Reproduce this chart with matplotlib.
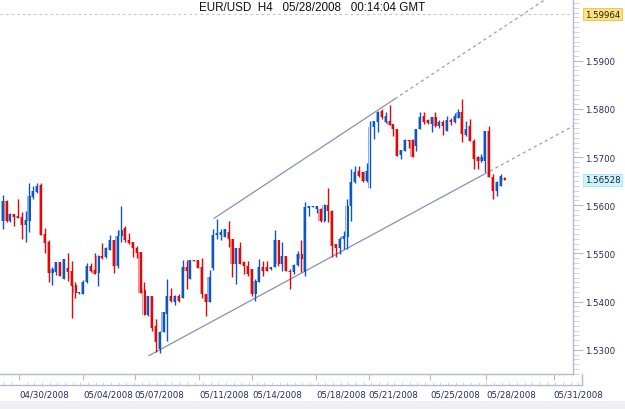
import numpy as np
import matplotlib
matplotlib.use('Agg')
import matplotlib.pyplot as plt
from matplotlib.patches import Rectangle

# EUR/USD H4 candles, oldest first
opens = [1.5568, 1.5608, 1.5568, 1.5582, 1.5578, 1.5576, 1.5559, 1.5568, 1.5617, 1.5627,
         1.5643, 1.5540, 1.5524, 1.5459, 1.5461, 1.5483, 1.5447, 1.5469, 1.5463, 1.5435,
         1.5417, 1.5416, 1.5440, 1.5473, 1.5466, 1.5459, 1.5494, 1.5492, 1.5508, 1.5528,
         1.5473, 1.5537, 1.5552, 1.5529, 1.5524, 1.5511, 1.5504, 1.5425, 1.5373, 1.5411,
         1.5350, 1.5302, 1.5338, 1.5374, 1.5412, 1.5400, 1.5412, 1.5407, 1.5471, 1.5447,
         1.5486, 1.5486, 1.5471, 1.5416, 1.5400, 1.5470, 1.5538, 1.5538, 1.5534, 1.5544,
         1.5531, 1.5478, 1.5511, 1.5483, 1.5475, 1.5468, 1.5416, 1.5440, 1.5471, 1.5471,
         1.5468, 1.5471, 1.5527, 1.5478, 1.5495, 1.5464, 1.5461, 1.5476, 1.5499, 1.5461,
         1.5594, 1.5596, 1.5592, 1.5592, 1.5568, 1.5601, 1.5589, 1.5520, 1.5511, 1.5530,
         1.5534, 1.5599, 1.5648, 1.5672, 1.5669, 1.5651, 1.5636, 1.5762, 1.5772, 1.5796,
         1.5772, 1.5776, 1.5769, 1.5758, 1.5705, 1.5713, 1.5736, 1.5736, 1.5724, 1.5758,
         1.5786, 1.5778, 1.5769, 1.5783, 1.5764, 1.5772, 1.5755, 1.5778, 1.5772, 1.5781,
         1.5793, 1.5747, 1.5765, 1.5734, 1.5700, 1.5693, 1.5693, 1.5755, 1.5658, 1.5630,
         1.5641, 1.5657]
highs = [1.5621, 1.5611, 1.5583, 1.5582, 1.5613, 1.5586, 1.5589, 1.5646, 1.5641, 1.5646,
         1.5646, 1.5552, 1.5529, 1.5472, 1.5482, 1.5483, 1.5489, 1.5500, 1.5485, 1.5440,
         1.5420, 1.5445, 1.5480, 1.5480, 1.5502, 1.5497, 1.5522, 1.5513, 1.5538, 1.5529,
         1.5549, 1.5598, 1.5558, 1.5542, 1.5524, 1.5516, 1.5504, 1.5441, 1.5412, 1.5412,
         1.5364, 1.5340, 1.5379, 1.5446, 1.5428, 1.5414, 1.5416, 1.5486, 1.5486, 1.5486,
         1.5486, 1.5486, 1.5490, 1.5416, 1.5466, 1.5551, 1.5572, 1.5551, 1.5551, 1.5568,
         1.5531, 1.5511, 1.5524, 1.5485, 1.5485, 1.5468, 1.5447, 1.5489, 1.5485, 1.5485,
         1.5471, 1.5549, 1.5527, 1.5523, 1.5495, 1.5468, 1.5478, 1.5506, 1.5527, 1.5606,
         1.5599, 1.5598, 1.5599, 1.5594, 1.5603, 1.5635, 1.5591, 1.5520, 1.5534, 1.5547,
         1.5613, 1.5675, 1.5682, 1.5682, 1.5669, 1.5688, 1.5774, 1.5776, 1.5796, 1.5800,
         1.5793, 1.5808, 1.5769, 1.5758, 1.5715, 1.5738, 1.5736, 1.5738, 1.5758, 1.5793,
         1.5793, 1.5779, 1.5783, 1.5794, 1.5778, 1.5778, 1.5786, 1.5781, 1.5792, 1.5800,
         1.5821, 1.5776, 1.5779, 1.5738, 1.5703, 1.5707, 1.5754, 1.5764, 1.5665, 1.5651,
         1.5665, 1.5659]
lows = [1.5551, 1.5566, 1.5566, 1.5558, 1.5574, 1.5531, 1.5523, 1.5545, 1.5613, 1.5626,
        1.5539, 1.5502, 1.5441, 1.5435, 1.5455, 1.5453, 1.5446, 1.5443, 1.5367, 1.5407,
        1.5416, 1.5416, 1.5439, 1.5462, 1.5457, 1.5432, 1.5489, 1.5490, 1.5508, 1.5459,
        1.5469, 1.5524, 1.5524, 1.5520, 1.5492, 1.5490, 1.5418, 1.5372, 1.5371, 1.5340,
        1.5295, 1.5293, 1.5336, 1.5319, 1.5400, 1.5393, 1.5400, 1.5407, 1.5426, 1.5447,
        1.5484, 1.5470, 1.5407, 1.5370, 1.5400, 1.5466, 1.5530, 1.5527, 1.5534, 1.5513,
        1.5451, 1.5437, 1.5478, 1.5457, 1.5454, 1.5412, 1.5402, 1.5440, 1.5454, 1.5464,
        1.5466, 1.5471, 1.5475, 1.5464, 1.5464, 1.5426, 1.5457, 1.5475, 1.5461, 1.5454,
        1.5578, 1.5596, 1.5585, 1.5566, 1.5566, 1.5566, 1.5492, 1.5492, 1.5499, 1.5509,
        1.5509, 1.5568, 1.5646, 1.5658, 1.5648, 1.5648, 1.5636, 1.5738, 1.5752, 1.5779,
        1.5771, 1.5767, 1.5744, 1.5703, 1.5696, 1.5713, 1.5720, 1.5700, 1.5713, 1.5758,
        1.5769, 1.5769, 1.5753, 1.5762, 1.5760, 1.5746, 1.5755, 1.5767, 1.5771, 1.5781,
        1.5731, 1.5744, 1.5734, 1.5675, 1.5675, 1.5689, 1.5669, 1.5658, 1.5613, 1.5619,
        1.5641, 1.5652]
closes = [1.5608, 1.5568, 1.5582, 1.5575, 1.5574, 1.5559, 1.5569, 1.5619, 1.5630, 1.5641,
          1.5539, 1.5522, 1.5459, 1.5468, 1.5482, 1.5453, 1.5488, 1.5462, 1.5433, 1.5418,
          1.5419, 1.5441, 1.5475, 1.5464, 1.5457, 1.5494, 1.5490, 1.5511, 1.5529, 1.5473,
          1.5537, 1.5549, 1.5527, 1.5522, 1.5511, 1.5502, 1.5418, 1.5372, 1.5411, 1.5345,
          1.5316, 1.5336, 1.5378, 1.5412, 1.5402, 1.5411, 1.5402, 1.5471, 1.5464, 1.5486,
          1.5484, 1.5470, 1.5416, 1.5400, 1.5451, 1.5538, 1.5542, 1.5544, 1.5551, 1.5531,
          1.5478, 1.5511, 1.5478, 1.5475, 1.5457, 1.5416, 1.5443, 1.5471, 1.5464, 1.5464,
          1.5471, 1.5527, 1.5478, 1.5495, 1.5464, 1.5462, 1.5476, 1.5499, 1.5489, 1.5596,
          1.5598, 1.5598, 1.5598, 1.5568, 1.5601, 1.5589, 1.5516, 1.5511, 1.5531, 1.5536,
          1.5599, 1.5648, 1.5669, 1.5661, 1.5651, 1.5672, 1.5762, 1.5774, 1.5793, 1.5783,
          1.5785, 1.5767, 1.5758, 1.5703, 1.5715, 1.5736, 1.5734, 1.5700, 1.5758, 1.5783,
          1.5772, 1.5771, 1.5783, 1.5765, 1.5772, 1.5764, 1.5778, 1.5772, 1.5785, 1.5793,
          1.5748, 1.5758, 1.5734, 1.5696, 1.5693, 1.5700, 1.5754, 1.5658, 1.5630, 1.5648,
          1.5661, 1.5653]

# channel anchors (candle index, price)
upper_line = [(55.3, 1.5573), (102.5, 1.5821)]
lower_line = [(38.3, 1.5288), (127.3, 1.5671)]

date_pos = [4.4, 21.1, 34.6, 51.4, 65.2, 81.9, 95.7, 111.7, 126.3, 144.0]
date_labels = ['04/30/2008', '05/04/2008', '05/07/2008', '05/11/2008', '05/14/2008',
               '05/18/2008', '05/21/2008', '05/25/2008', '05/28/2008', '05/31/2008']
price_ticks = [1.53, 1.54, 1.55, 1.56, 1.57, 1.58, 1.59]
high_mark = 1.59964
last_price = 1.56528
title = 'EUR/USD  H4   05/28/2008   00:14:04 GMT'

up_col, up_light = '#0B57C8', '#8DB2E8'
down_col, down_light = '#E00808', '#F29494'
axis_col = '#B4BCCC'
label_col = '#22286A'

W, H = 625, 410
fig = plt.figure(figsize=(W / 100, H / 100), dpi=100)
fig.patch.set_facecolor('white')

ax = fig.add_axes([0, 35 / H, 573 / W, 375 / H])
ax.set_xlim(-0.6, 149.0)
ax.set_ylim(1.52498, 1.60283)

o = np.array(opens); h = np.array(highs); l = np.array(lows); c = np.array(closes)
x = np.arange(len(o))
up = c >= o
cols = np.where(up, up_col, down_col)
lights = np.where(up, up_light, down_light)
body_lo = np.minimum(o, c)
body_h = np.maximum(np.abs(c - o), 0.00006)
# light left edge, then dark body and wick
ax.bar(x - 0.3, body_h, bottom=body_lo, width=0.3, color=lights, linewidth=0, zorder=3)
ax.vlines(x + 0.1, l, h, colors=cols, linewidth=1.0, zorder=4)
ax.bar(x + 0.13, body_h, bottom=body_lo, width=0.52, color=cols, linewidth=0, zorder=4)

# channel lines: solid between anchors, dashed ray to the right edge
for (x1, y1), (x2, y2) in (upper_line, lower_line):
    slope = (y2 - y1) / (x2 - x1)
    ax.plot([x1, x2], [y1, y2], color='#8C8CBE', lw=0.9, zorder=2)
    xe = 149.0
    ax.plot([x2, xe], [y2, y2 + slope * (xe - x2)], color='#9A9AC8', lw=0.9,
            ls=(0, (2.5, 2.5)), zorder=2)

ax.axhline(high_mark, color='#C8C8C8', lw=0.8, ls=(0, (2.5, 2.5)), zorder=1)

for s in ['top', 'left']:
    ax.spines[s].set_visible(False)
for s in ['right', 'bottom']:
    ax.spines[s].set_color(axis_col)
    ax.spines[s].set_linewidth(1.0)

ax.set_xticks(date_pos)
ax.tick_params(axis='x', which='major', direction='out', length=4.3, width=0.8,
               color=axis_col, labelbottom=False)
ax.yaxis.tick_right()
ax.set_yticks(price_ticks)
ax.set_yticklabels(['%.4f' % p for p in price_ticks])
ax.set_yticks(np.arange(1.525, 1.6025, 0.001), minor=True)
ax.tick_params(axis='y', which='major', direction='out', length=7.2, width=0.8,
               color=axis_col, pad=1.5, labelsize=6.2, labelcolor=label_col)
ax.tick_params(axis='y', which='minor', direction='out', length=4, width=0.6,
               color='#C8CED8')

box_tr = ax.get_yaxis_transform()
ax.text(1.021, high_mark, '%.5f' % high_mark, transform=box_tr, ha='left', va='center',
        fontsize=6.2, color='#202020', clip_on=False,
        bbox=dict(boxstyle='square,pad=0.18', fc='#FFE07A', ec='#E8C050', lw=0.6))
ax.text(1.021, last_price, '%.5f' % last_price, transform=box_tr, ha='left', va='center',
        fontsize=6.2, color='#202020', clip_on=False,
        bbox=dict(boxstyle='square,pad=0.18', fc='#CCF4FF', ec='#A8E4F0', lw=0.6))

# date strip under the chart
axd = fig.add_axes([0, 24 / H, 582 / W, 11 / H])
axd.set_xlim(-0.6, 151.4)
axd.set_ylim(0, 1)
axd.patch.set_alpha(0)
axd.set_yticks([])
for s in ['top', 'left']:
    axd.spines[s].set_visible(False)
for s in ['right', 'bottom']:
    axd.spines[s].set_color(axis_col)
    axd.spines[s].set_linewidth(1.0)
axd.set_xticks(date_pos)
axd.set_xticklabels(date_labels)
axd.set_xticks(np.arange(0.4, 151, 2.0), minor=True)
axd.tick_params(axis='x', which='major', direction='in', length=0,
                pad=3.6, labelsize=6.2, labelcolor=label_col)
axd.tick_params(axis='x', which='minor', direction='in', length=2.5, width=0.6,
                color='#C8CED8')
for t in axd.get_xticklabels():
    t.set_ha('left')

fig.text(0.5, 1 - 8 / H, title, ha='center', va='center', fontsize=8.4,
         family='Liberation Sans', color='#111111')

fig.patches.append(Rectangle((0, 0), 1, 8 / H, transform=fig.transFigure,
                             facecolor='#EEEEF3', edgecolor='none'))

fig.savefig('out.png', dpi=100)
